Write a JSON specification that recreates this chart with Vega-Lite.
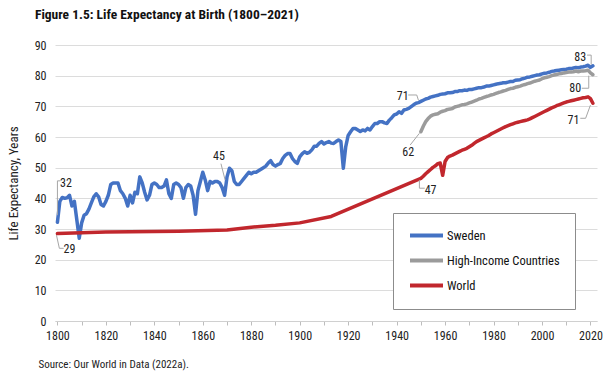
{
  "$schema": "https://vega.github.io/schema/vega-lite/v6.json",
  "width": 542,
  "height": 276,
  "autosize": {"type": "none"},
  "padding": {"left": 55, "top": 45, "right": 8, "bottom": 55},
  "background": "white",
  "config": {
    "view": {"stroke": null},
    "font": "Roboto Condensed, Liberation Sans Narrow, DejaVu Sans Condensed, Roboto, sans-serif"
  },
  "title": {
    "text": "Figure 1.5: Life Expectancy at Birth (1800–2021)",
    "anchor": "start",
    "frame": "group",
    "dx": -20,
    "offset": 18,
    "fontSize": 13.5,
    "fontWeight": "bold",
    "color": "#111111",
    "font": "Roboto Condensed, Liberation Sans Narrow, DejaVu Sans Condensed, Roboto, sans-serif"
  },
  "datasets": {
    "lines": [
      {"year":1800,"series":"Sweden","value":32.2},{"year":1801,"series":"Sweden","value":39.0},{"year":1802,"series":"Sweden","value":40.3},{"year":1803,"series":"Sweden","value":40.0},{"year":1804,"series":"Sweden","value":40.2},{"year":1805,"series":"Sweden","value":41.0},{"year":1806,"series":"Sweden","value":37.5},{"year":1807,"series":"Sweden","value":39.0},{"year":1808,"series":"Sweden","value":33.0},{"year":1809,"series":"Sweden","value":27.0},
      {"year":1810,"series":"Sweden","value":32.0},{"year":1811,"series":"Sweden","value":34.5},{"year":1812,"series":"Sweden","value":35.0},{"year":1813,"series":"Sweden","value":36.5},{"year":1814,"series":"Sweden","value":38.5},{"year":1815,"series":"Sweden","value":40.5},{"year":1816,"series":"Sweden","value":41.5},{"year":1817,"series":"Sweden","value":40.5},{"year":1818,"series":"Sweden","value":38.0},{"year":1819,"series":"Sweden","value":37.5},
      {"year":1820,"series":"Sweden","value":39.0},{"year":1821,"series":"Sweden","value":41.0},{"year":1822,"series":"Sweden","value":44.5},{"year":1823,"series":"Sweden","value":45.0},{"year":1824,"series":"Sweden","value":45.0},{"year":1825,"series":"Sweden","value":45.0},{"year":1826,"series":"Sweden","value":42.5},{"year":1827,"series":"Sweden","value":41.5},{"year":1828,"series":"Sweden","value":40.0},{"year":1829,"series":"Sweden","value":37.5},
      {"year":1830,"series":"Sweden","value":41.0},{"year":1831,"series":"Sweden","value":38.5},{"year":1832,"series":"Sweden","value":42.0},{"year":1833,"series":"Sweden","value":41.5},{"year":1834,"series":"Sweden","value":47.0},{"year":1835,"series":"Sweden","value":45.0},{"year":1836,"series":"Sweden","value":42.0},{"year":1837,"series":"Sweden","value":39.5},{"year":1838,"series":"Sweden","value":41.0},{"year":1839,"series":"Sweden","value":44.5},
      {"year":1840,"series":"Sweden","value":45.0},{"year":1841,"series":"Sweden","value":44.5},{"year":1842,"series":"Sweden","value":43.5},{"year":1843,"series":"Sweden","value":43.5},{"year":1844,"series":"Sweden","value":44.0},{"year":1845,"series":"Sweden","value":46.0},{"year":1846,"series":"Sweden","value":41.5},{"year":1847,"series":"Sweden","value":40.0},{"year":1848,"series":"Sweden","value":44.5},{"year":1849,"series":"Sweden","value":45.0},
      {"year":1850,"series":"Sweden","value":44.5},{"year":1851,"series":"Sweden","value":43.5},{"year":1852,"series":"Sweden","value":40.0},{"year":1853,"series":"Sweden","value":43.5},{"year":1854,"series":"Sweden","value":44.5},{"year":1855,"series":"Sweden","value":44.0},{"year":1856,"series":"Sweden","value":41.0},{"year":1857,"series":"Sweden","value":34.8},{"year":1858,"series":"Sweden","value":42.5},{"year":1859,"series":"Sweden","value":45.5},
      {"year":1860,"series":"Sweden","value":48.5},{"year":1861,"series":"Sweden","value":46.0},{"year":1862,"series":"Sweden","value":42.5},{"year":1863,"series":"Sweden","value":45.5},{"year":1864,"series":"Sweden","value":45.0},{"year":1865,"series":"Sweden","value":45.5},{"year":1866,"series":"Sweden","value":45.5},{"year":1867,"series":"Sweden","value":45.0},{"year":1868,"series":"Sweden","value":43.5},{"year":1869,"series":"Sweden","value":41.0},
      {"year":1870,"series":"Sweden","value":47.0},{"year":1871,"series":"Sweden","value":49.8},{"year":1872,"series":"Sweden","value":49.0},{"year":1873,"series":"Sweden","value":45.5},{"year":1874,"series":"Sweden","value":44.5},{"year":1875,"series":"Sweden","value":44.5},{"year":1876,"series":"Sweden","value":45.5},{"year":1877,"series":"Sweden","value":46.5},{"year":1878,"series":"Sweden","value":47.5},{"year":1879,"series":"Sweden","value":48.5},
      {"year":1880,"series":"Sweden","value":48.0},{"year":1881,"series":"Sweden","value":48.5},{"year":1882,"series":"Sweden","value":48.5},{"year":1883,"series":"Sweden","value":49.0},{"year":1884,"series":"Sweden","value":49.5},{"year":1885,"series":"Sweden","value":50.0},{"year":1886,"series":"Sweden","value":50.5},{"year":1887,"series":"Sweden","value":51.5},{"year":1888,"series":"Sweden","value":52.3},{"year":1889,"series":"Sweden","value":51.0},
      {"year":1890,"series":"Sweden","value":50.5},{"year":1891,"series":"Sweden","value":51.0},{"year":1892,"series":"Sweden","value":51.4},{"year":1893,"series":"Sweden","value":53.0},{"year":1894,"series":"Sweden","value":54.0},{"year":1895,"series":"Sweden","value":54.6},{"year":1896,"series":"Sweden","value":54.6},{"year":1897,"series":"Sweden","value":53.0},{"year":1898,"series":"Sweden","value":52.0},{"year":1899,"series":"Sweden","value":51.4},
      {"year":1900,"series":"Sweden","value":53.5},{"year":1901,"series":"Sweden","value":54.5},{"year":1902,"series":"Sweden","value":55.2},{"year":1903,"series":"Sweden","value":54.7},{"year":1904,"series":"Sweden","value":55.0},{"year":1905,"series":"Sweden","value":55.8},{"year":1906,"series":"Sweden","value":57.0},{"year":1907,"series":"Sweden","value":57.0},{"year":1908,"series":"Sweden","value":57.9},{"year":1909,"series":"Sweden","value":58.5},
      {"year":1910,"series":"Sweden","value":57.7},{"year":1911,"series":"Sweden","value":58.2},{"year":1912,"series":"Sweden","value":58.5},{"year":1913,"series":"Sweden","value":58.0},{"year":1914,"series":"Sweden","value":57.9},{"year":1915,"series":"Sweden","value":58.5},{"year":1916,"series":"Sweden","value":59.0},{"year":1917,"series":"Sweden","value":58.5},{"year":1918,"series":"Sweden","value":49.8},{"year":1919,"series":"Sweden","value":56.9},
      {"year":1920,"series":"Sweden","value":60.5},{"year":1921,"series":"Sweden","value":61.7},{"year":1922,"series":"Sweden","value":62.8},{"year":1923,"series":"Sweden","value":62.8},{"year":1924,"series":"Sweden","value":62.3},{"year":1925,"series":"Sweden","value":61.8},{"year":1926,"series":"Sweden","value":62.3},{"year":1927,"series":"Sweden","value":62.0},{"year":1928,"series":"Sweden","value":62.8},{"year":1929,"series":"Sweden","value":62.3},
      {"year":1930,"series":"Sweden","value":63.4},{"year":1931,"series":"Sweden","value":64.4},{"year":1932,"series":"Sweden","value":64.4},{"year":1933,"series":"Sweden","value":65.0},{"year":1934,"series":"Sweden","value":65.0},{"year":1935,"series":"Sweden","value":64.6},{"year":1936,"series":"Sweden","value":64.4},{"year":1937,"series":"Sweden","value":65.5},{"year":1938,"series":"Sweden","value":66.3},{"year":1939,"series":"Sweden","value":67.2},
      {"year":1940,"series":"Sweden","value":67.5},{"year":1941,"series":"Sweden","value":68.2},{"year":1942,"series":"Sweden","value":67.7},{"year":1943,"series":"Sweden","value":68.8},{"year":1944,"series":"Sweden","value":69.0},{"year":1945,"series":"Sweden","value":69.3},{"year":1946,"series":"Sweden","value":69.9},{"year":1947,"series":"Sweden","value":70.5},{"year":1948,"series":"Sweden","value":71.0},{"year":1949,"series":"Sweden","value":71.2},
      {"year":1950,"series":"Sweden","value":71.6},{"year":1951,"series":"Sweden","value":72.0},{"year":1952,"series":"Sweden","value":72.4},{"year":1953,"series":"Sweden","value":72.6},{"year":1954,"series":"Sweden","value":73.0},{"year":1955,"series":"Sweden","value":73.2},{"year":1956,"series":"Sweden","value":73.4},{"year":1957,"series":"Sweden","value":73.6},{"year":1958,"series":"Sweden","value":73.9},{"year":1959,"series":"Sweden","value":74.0},
      {"year":1960,"series":"Sweden","value":74.1},{"year":1961,"series":"Sweden","value":74.4},{"year":1962,"series":"Sweden","value":74.4},{"year":1963,"series":"Sweden","value":74.5},{"year":1964,"series":"Sweden","value":74.8},{"year":1965,"series":"Sweden","value":74.8},{"year":1966,"series":"Sweden","value":75.1},{"year":1967,"series":"Sweden","value":75.1},{"year":1968,"series":"Sweden","value":75.3},{"year":1969,"series":"Sweden","value":75.2},
      {"year":1970,"series":"Sweden","value":75.5},{"year":1971,"series":"Sweden","value":75.5},{"year":1972,"series":"Sweden","value":75.7},{"year":1973,"series":"Sweden","value":75.9},{"year":1974,"series":"Sweden","value":76.1},{"year":1975,"series":"Sweden","value":76.1},{"year":1976,"series":"Sweden","value":76.3},{"year":1977,"series":"Sweden","value":76.6},{"year":1978,"series":"Sweden","value":76.6},{"year":1979,"series":"Sweden","value":76.8},
      {"year":1980,"series":"Sweden","value":77.0},{"year":1981,"series":"Sweden","value":77.2},{"year":1982,"series":"Sweden","value":77.4},{"year":1983,"series":"Sweden","value":77.5},{"year":1984,"series":"Sweden","value":77.7},{"year":1985,"series":"Sweden","value":77.7},{"year":1986,"series":"Sweden","value":77.9},{"year":1987,"series":"Sweden","value":78.1},{"year":1988,"series":"Sweden","value":78.1},{"year":1989,"series":"Sweden","value":78.5},
      {"year":1990,"series":"Sweden","value":78.6},{"year":1991,"series":"Sweden","value":78.7},{"year":1992,"series":"Sweden","value":79.0},{"year":1993,"series":"Sweden","value":79.2},{"year":1994,"series":"Sweden","value":79.5},{"year":1995,"series":"Sweden","value":79.6},{"year":1996,"series":"Sweden","value":79.8},{"year":1997,"series":"Sweden","value":80.0},{"year":1998,"series":"Sweden","value":80.2},{"year":1999,"series":"Sweden","value":80.3},
      {"year":2000,"series":"Sweden","value":80.6},{"year":2001,"series":"Sweden","value":80.8},{"year":2002,"series":"Sweden","value":80.9},{"year":2003,"series":"Sweden","value":81.1},{"year":2004,"series":"Sweden","value":81.4},{"year":2005,"series":"Sweden","value":81.5},{"year":2006,"series":"Sweden","value":81.7},{"year":2007,"series":"Sweden","value":81.8},{"year":2008,"series":"Sweden","value":81.9},{"year":2009,"series":"Sweden","value":82.0},
      {"year":2010,"series":"Sweden","value":82.1},{"year":2011,"series":"Sweden","value":82.3},{"year":2012,"series":"Sweden","value":82.3},{"year":2013,"series":"Sweden","value":82.5},{"year":2014,"series":"Sweden","value":82.7},{"year":2015,"series":"Sweden","value":82.6},{"year":2016,"series":"Sweden","value":82.8},{"year":2017,"series":"Sweden","value":82.9},{"year":2018,"series":"Sweden","value":83.1},{"year":2019,"series":"Sweden","value":83.4},
      {"year":2020,"series":"Sweden","value":82.7},{"year":2021,"series":"Sweden","value":83.2},

      {"year":1950,"series":"High-Income Countries","value":61.7},{"year":1951,"series":"High-Income Countries","value":63.5},{"year":1952,"series":"High-Income Countries","value":65.0},{"year":1953,"series":"High-Income Countries","value":66.0},{"year":1954,"series":"High-Income Countries","value":66.8},{"year":1955,"series":"High-Income Countries","value":67.2},{"year":1956,"series":"High-Income Countries","value":67.4},{"year":1957,"series":"High-Income Countries","value":67.6},{"year":1958,"series":"High-Income Countries","value":68.1},{"year":1959,"series":"High-Income Countries","value":68.4},
      {"year":1960,"series":"High-Income Countries","value":68.6},{"year":1961,"series":"High-Income Countries","value":69.0},{"year":1962,"series":"High-Income Countries","value":69.1},{"year":1963,"series":"High-Income Countries","value":69.3},{"year":1964,"series":"High-Income Countries","value":69.8},{"year":1965,"series":"High-Income Countries","value":70.0},{"year":1966,"series":"High-Income Countries","value":70.2},{"year":1967,"series":"High-Income Countries","value":70.5},{"year":1968,"series":"High-Income Countries","value":70.6},{"year":1969,"series":"High-Income Countries","value":70.8},
      {"year":1970,"series":"High-Income Countries","value":71.1},{"year":1971,"series":"High-Income Countries","value":71.4},{"year":1972,"series":"High-Income Countries","value":71.7},{"year":1973,"series":"High-Income Countries","value":72.0},{"year":1974,"series":"High-Income Countries","value":72.4},{"year":1975,"series":"High-Income Countries","value":72.6},{"year":1976,"series":"High-Income Countries","value":72.9},{"year":1977,"series":"High-Income Countries","value":73.2},{"year":1978,"series":"High-Income Countries","value":73.4},{"year":1979,"series":"High-Income Countries","value":73.7},
      {"year":1980,"series":"High-Income Countries","value":73.9},{"year":1981,"series":"High-Income Countries","value":74.2},{"year":1982,"series":"High-Income Countries","value":74.5},{"year":1983,"series":"High-Income Countries","value":74.7},{"year":1984,"series":"High-Income Countries","value":75.0},{"year":1985,"series":"High-Income Countries","value":75.2},{"year":1986,"series":"High-Income Countries","value":75.5},{"year":1987,"series":"High-Income Countries","value":75.8},{"year":1988,"series":"High-Income Countries","value":75.9},{"year":1989,"series":"High-Income Countries","value":76.2},
      {"year":1990,"series":"High-Income Countries","value":76.4},{"year":1991,"series":"High-Income Countries","value":76.6},{"year":1992,"series":"High-Income Countries","value":76.9},{"year":1993,"series":"High-Income Countries","value":77.1},{"year":1994,"series":"High-Income Countries","value":77.4},{"year":1995,"series":"High-Income Countries","value":77.6},{"year":1996,"series":"High-Income Countries","value":77.9},{"year":1997,"series":"High-Income Countries","value":78.2},{"year":1998,"series":"High-Income Countries","value":78.4},{"year":1999,"series":"High-Income Countries","value":78.6},
      {"year":2000,"series":"High-Income Countries","value":79.0},{"year":2001,"series":"High-Income Countries","value":79.3},{"year":2002,"series":"High-Income Countries","value":79.5},{"year":2003,"series":"High-Income Countries","value":79.7},{"year":2004,"series":"High-Income Countries","value":80.0},{"year":2005,"series":"High-Income Countries","value":80.2},{"year":2006,"series":"High-Income Countries","value":80.4},{"year":2007,"series":"High-Income Countries","value":80.6},{"year":2008,"series":"High-Income Countries","value":80.7},{"year":2009,"series":"High-Income Countries","value":80.9},
      {"year":2010,"series":"High-Income Countries","value":81.0},{"year":2011,"series":"High-Income Countries","value":81.2},{"year":2012,"series":"High-Income Countries","value":81.2},{"year":2013,"series":"High-Income Countries","value":81.3},{"year":2014,"series":"High-Income Countries","value":81.5},{"year":2015,"series":"High-Income Countries","value":81.3},{"year":2016,"series":"High-Income Countries","value":81.5},{"year":2017,"series":"High-Income Countries","value":81.5},{"year":2018,"series":"High-Income Countries","value":81.6},{"year":2019,"series":"High-Income Countries","value":81.8},
      {"year":2020,"series":"High-Income Countries","value":80.9},{"year":2021,"series":"High-Income Countries","value":80.3},

      {"year":1800,"series":"World","value":28.5},{"year":1820,"series":"World","value":29.0},{"year":1850,"series":"World","value":29.3},{"year":1870,"series":"World","value":29.7},{"year":1880,"series":"World","value":30.6},{"year":1890,"series":"World","value":31.2},{"year":1900,"series":"World","value":32.0},{"year":1913,"series":"World","value":34.1},
      {"year":1950,"series":"World","value":46.5},{"year":1951,"series":"World","value":47.2},{"year":1952,"series":"World","value":48.0},{"year":1953,"series":"World","value":48.7},{"year":1954,"series":"World","value":49.4},{"year":1955,"series":"World","value":50.1},{"year":1956,"series":"World","value":50.6},{"year":1957,"series":"World","value":51.3},{"year":1958,"series":"World","value":51.5},{"year":1959,"series":"World","value":47.5},
      {"year":1960,"series":"World","value":52.0},{"year":1961,"series":"World","value":53.3},{"year":1962,"series":"World","value":53.8},{"year":1963,"series":"World","value":54.1},{"year":1964,"series":"World","value":54.5},{"year":1965,"series":"World","value":54.9},{"year":1966,"series":"World","value":55.3},{"year":1967,"series":"World","value":55.7},{"year":1968,"series":"World","value":56.0},{"year":1969,"series":"World","value":56.3},
      {"year":1970,"series":"World","value":56.8},{"year":1971,"series":"World","value":57.3},{"year":1972,"series":"World","value":57.9},{"year":1973,"series":"World","value":58.5},{"year":1974,"series":"World","value":58.9},{"year":1975,"series":"World","value":59.3},{"year":1976,"series":"World","value":59.7},{"year":1977,"series":"World","value":60.1},{"year":1978,"series":"World","value":60.5},{"year":1979,"series":"World","value":61.0},
      {"year":1980,"series":"World","value":61.4},{"year":1981,"series":"World","value":61.8},{"year":1982,"series":"World","value":62.2},{"year":1983,"series":"World","value":62.6},{"year":1984,"series":"World","value":63.0},{"year":1985,"series":"World","value":63.4},{"year":1986,"series":"World","value":63.7},{"year":1987,"series":"World","value":64.0},{"year":1988,"series":"World","value":64.3},{"year":1989,"series":"World","value":64.6},
      {"year":1990,"series":"World","value":64.8},{"year":1991,"series":"World","value":65.0},{"year":1992,"series":"World","value":65.2},{"year":1993,"series":"World","value":65.4},{"year":1994,"series":"World","value":65.6},{"year":1995,"series":"World","value":65.9},{"year":1996,"series":"World","value":66.3},{"year":1997,"series":"World","value":66.7},{"year":1998,"series":"World","value":67.1},{"year":1999,"series":"World","value":67.5},
      {"year":2000,"series":"World","value":67.9},{"year":2001,"series":"World","value":68.3},{"year":2002,"series":"World","value":68.7},{"year":2003,"series":"World","value":69.1},{"year":2004,"series":"World","value":69.5},{"year":2005,"series":"World","value":69.8},{"year":2006,"series":"World","value":70.2},{"year":2007,"series":"World","value":70.5},{"year":2008,"series":"World","value":70.8},{"year":2009,"series":"World","value":71.1},
      {"year":2010,"series":"World","value":71.4},{"year":2011,"series":"World","value":71.6},{"year":2012,"series":"World","value":71.8},{"year":2013,"series":"World","value":72.0},{"year":2014,"series":"World","value":72.2},{"year":2015,"series":"World","value":72.4},{"year":2016,"series":"World","value":72.6},{"year":2017,"series":"World","value":72.8},{"year":2018,"series":"World","value":72.9},{"year":2019,"series":"World","value":73.1},
      {"year":2020,"series":"World","value":72.5},{"year":2021,"series":"World","value":71.0}
    ],
    "notes": [
      {"year":1803.5,"value":45.0,"label":"32"},
      {"year":1805.0,"value":23.4,"label":"29"},
      {"year":1866.7,"value":53.8,"label":"45"},
      {"year":1942.5,"value":73.3,"label":"71"},
      {"year":1944.8,"value":55.2,"label":"62"},
      {"year":1954.0,"value":42.7,"label":"47"},
      {"year":2015.8,"value":86.2,"label":"83"},
      {"year":2013.7,"value":75.9,"label":"80"},
      {"year":2013.0,"value":65.6,"label":"71"}
    ],
    "leaders": [
      {"x":1800.0,"y":45.7,"x2":1801.2,"y2":45.7},
      {"x":1800.0,"y":45.7,"x2":1800.0,"y2":34.5},
      {"x":1802.6,"y":23.7,"x2":1800.8,"y2":23.7},
      {"x":1800.8,"y":23.7,"x2":1799.6,"y2":28.0},
      {"x":1867.5,"y":51.3,"x2":1869.2,"y2":46.0},
      {"x":1944.8,"y":73.7,"x2":1948.3,"y2":73.7},
      {"x":1948.3,"y":73.7,"x2":1949.0,"y2":72.0},
      {"x":1945.6,"y":57.4,"x2":1949.4,"y2":61.2},
      {"x":1951.6,"y":43.3,"x2":1949.4,"y2":43.3},
      {"x":1949.4,"y":43.3,"x2":1949.4,"y2":46.0},
      {"x":2018.6,"y":86.7,"x2":2020.3,"y2":86.7},
      {"x":2020.3,"y":86.7,"x2":2020.3,"y2":83.6},
      {"x":2016.4,"y":75.9,"x2":2019.3,"y2":75.9},
      {"x":2019.3,"y":75.9,"x2":2019.3,"y2":80.0},
      {"x":2015.8,"y":66.1,"x2":2018.0,"y2":66.1},
      {"x":2018.0,"y":66.1,"x2":2020.0,"y2":70.4}
    ]
  },
  "layer": [
    {
      "data": {"name": "lines"},
      "mark": {"type": "line", "strokeWidth": 3.5, "strokeJoin": "round", "strokeCap": "round"},
      "encoding": {
        "x": {
          "field": "year", "type": "quantitative",
          "scale": {"domain": [1799, 2022.7], "nice": false, "zero": false},
          "axis": {
            "values": [1800,1810,1820,1830,1840,1850,1860,1870,1880,1890,1900,1910,1920,1930,1940,1950,1960,1970,1980,1990,2000,2010,2020],
            "tickCount": 30,
            "labelOverlap": false,
            "format": "d",
            "labelExpr": "datum.value % 20 == 0 ? datum.label : ''",
            "grid": false,
            "domainColor": "#d0d0d0",
            "tickColor": "#bdbdbd",
            "tickSize": 4,
            "labelFontSize": 12,
            "labelColor": "#222222",
            "labelPadding": 5,
            "title": "Source: Our World in Data (2022a).",
            "titleFontSize": 11,
            "titleFontWeight": "normal",
            "titleColor": "#222222",
            "titleAlign": "left",
            "titleAnchor": "start",
            "titleX": -17,
            "titleY": 43,
            "titleBaseline": "middle"
          }
        },
        "y": {
          "field": "value", "type": "quantitative",
          "scale": {"domain": [0, 90], "nice": false},
          "axis": {
            "values": [0,10,20,30,40,50,60,70,80,90],
            "tickCount": 12,
            "format": "d",
            "title": "Life Expectancy, Years",
            "titleFontSize": 13,
            "titleFontWeight": "normal",
            "titleColor": "#222222",
            "titlePadding": 14,
            "domain": false,
            "ticks": false,
            "labelPadding": 9,
            "labelFontSize": 12,
            "labelColor": "#222222",
            "gridColor": "#dcdcdc",
            "gridWidth": 1
          }
        },
        "color": {
          "field": "series", "type": "nominal",
          "scale": {"domain": ["Sweden", "High-Income Countries", "World"], "range": ["#4472c4", "#9b9b9b", "#c1272d"]},
          "legend": {
            "title": null,
            "orient": "none",
            "legendX": 338,
            "legendY": 168,
            "symbolType": "M-1,0H5",
            "symbolSize": 121,
            "symbolStrokeWidth": 4,
            "symbolFillColor": "transparent",
            "labelFontSize": 12.5,
            "labelColor": "#111111",
            "labelOffset": 24,
            "rowPadding": 8,
            "padding": 15,
            "fillColor": "white",
            "strokeColor": "#8c8c8c"
          }
        },
        "detail": {"field": "series"}
      }
    },
    {
      "data": {"name": "leaders"},
      "mark": {"type": "rule", "color": "#a6a6a6", "strokeWidth": 1},
      "encoding": {
        "x": {"field": "x", "type": "quantitative"},
        "y": {"field": "y", "type": "quantitative"},
        "x2": {"field": "x2"},
        "y2": {"field": "y2"}
      }
    },
    {
      "data": {"name": "notes"},
      "mark": {"type": "text", "fontSize": 12, "color": "#222222", "align": "center", "baseline": "middle"},
      "encoding": {
        "x": {"field": "year", "type": "quantitative"},
        "y": {"field": "value", "type": "quantitative"},
        "text": {"field": "label"}
      }
    }
  ]
}
